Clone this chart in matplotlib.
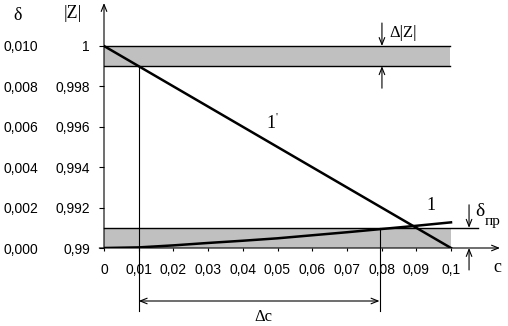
import numpy as np
import matplotlib.pyplot as plt

plt.rcParams['font.family'] = 'Liberation Sans'
plt.rcParams['font.size'] = 10

# data
c = [0, 0.01, 0.02, 0.03, 0.04, 0.05, 0.06, 0.07, 0.08, 0.09, 0.1]
z_abs = [1.0, 0.999, 0.998, 0.997, 0.996, 0.995, 0.994, 0.993, 0.992, 0.991, 0.99]   # curve 1'
delta = [0, 0.00003, 0.00013, 0.00025, 0.00036, 0.00048, 0.00063, 0.00078, 0.00094, 0.0011, 0.00127]  # curve 1

c_ticks = [0, 0.01, 0.02, 0.03, 0.04, 0.05, 0.06, 0.07, 0.08, 0.09, 0.1]
c_labels = ['0', '0,01', '0,02', '0,03', '0,04', '0,05', '0,06', '0,07', '0,08', '0,09', '0,1']
z_ticks = [0.99, 0.992, 0.994, 0.996, 0.998, 1.0]
z_labels = ['0,99', '0,992', '0,994', '0,996', '0,998', '1']
d_ticks = [0, 0.002, 0.004, 0.006, 0.008, 0.010]
d_labels = ['0,000', '0,002', '0,004', '0,006', '0,008', '0,010']

z_band = (0.999, 1.0)      # allowed |Z| tolerance
d_band = (0.0, 0.001)      # delta limit
c_range = (0.01, 0.0794)   # resulting c interval

W, H = 508, 326
fig = plt.figure(figsize=(W / 100, H / 100), dpi=100)
fig.patch.set_facecolor('white')

# axes: c=0 at x=104px, c=0.1 at 451px; |Z|=0.99 at y=248px, 1 at 46px
ax = fig.add_axes([104 / W, (H - 248) / H, 396 / W, 245 / H])
z_top = 1 + 43 / 20200
ax.set_xlim(0, 0.1 + 49 / 3470)
ax.set_ylim(0.99, z_top)
ax2 = ax.twinx()
ax2.set_ylim(0, z_top - 0.99)

# ax drawn above ax2
ax.set_zorder(ax2.get_zorder() + 1)
ax.patch.set_visible(False)

for a in (ax, ax2):
    for s in a.spines.values():
        s.set_visible(False)

serif = 'Liberation Serif'

# bands
ax.fill_between([0, 0.0996], z_band[0], z_band[1], color='#c0c0c0', lw=0)
ax.plot([0, 0.0996], [z_band[1], z_band[1]], color='black', lw=1)
ax.plot([0, 0.0996], [z_band[0], z_band[0]], color='black', lw=1)
ax2.fill_between([0, 0.1], d_band[0], d_band[1], color='#c0c0c0', lw=0)
ax2.plot([0, 0.1078], [d_band[1], d_band[1]], color='black', lw=1, clip_on=False)

# curves
ax.plot(c, z_abs, color='black', lw=1.8)
ax2.plot(c, delta, color='black', lw=1.8)

# axes with arrows
arr = dict(arrowstyle='->, head_length=0.5, head_width=0.2', lw=0.8, color='black',
           shrinkA=0, shrinkB=0)
ax.annotate('', xy=(0, 1), xytext=(0, 0), xycoords='axes fraction', arrowprops=arr)
ax.annotate('', xy=(1, 0), xytext=(-0.012, 0), xycoords='axes fraction', arrowprops=arr)

# ticks
ax.set_xticks(c_ticks)
ax.set_xticklabels(c_labels)
ax.tick_params(axis='x', direction='out', length=2.5, width=0.8, pad=8)
ax.set_yticks(z_ticks)
ax.set_yticklabels(z_labels)
ax.tick_params(axis='y', direction='out', length=3.6, width=0.8, pad=6.5)
ax2.set_yticks(d_ticks)
ax2.set_yticklabels(d_labels)
ax2.yaxis.tick_left()
ax2.tick_params(axis='y', length=0, pad=47.5)

# c interval lines and arrow
z_low = 0.99 - 63 / 20200
ax.plot([c_range[0], c_range[0]], [z_band[0], z_low], color='black', lw=0.8, clip_on=False)
ax.plot([c_range[1], c_range[1]], [0.991, z_low], color='black', lw=0.8, clip_on=False)
arr2 = dict(arrowstyle='<->, head_length=0.5, head_width=0.2', lw=0.8, color='black',
            shrinkA=0, shrinkB=0)
ax.annotate('', xy=(c_range[1], 0.99 - 53 / 20200), xytext=(c_range[0], 0.99 - 53 / 20200),
            arrowprops=arr2, annotation_clip=False)

# delta|Z| arrows
ax.annotate('', xy=(0.0801, z_band[1]), xytext=(0.0801, 1 + 23 / 20200),
            arrowprops=arr, annotation_clip=False)
ax.annotate('', xy=(0.0801, z_band[0]), xytext=(0.0801, z_band[0] - 22 / 20200),
            arrowprops=arr, annotation_clip=False)
# delta limit arrows
ax2.annotate('', xy=(0.1052, d_band[1]), xytext=(0.1052, d_band[1] + 23 / 20200),
             arrowprops=arr, annotation_clip=False)
ax2.annotate('', xy=(0.1052, 0), xytext=(0.1052, -22 / 20200),
             arrowprops=arr, annotation_clip=False)


def px_text(x, y, s, size, ha='center'):
    # text placed by pixel position in the figure
    fig.text(x / W, 1 - y / H, s, fontsize=size, family=serif, ha=ha, va='center')


px_text(17.5, 15, 'δ', 13)
px_text(73, 13, '|Z|', 13)
px_text(389, 33, 'Δ|Z|', 12, ha='left')
px_text(271, 123, '1', 13)
px_text(277, 117, "'", 8)
px_text(431, 205, '1', 13)
px_text(480, 211, 'δ', 14)
px_text(485, 221, 'пр', 11, ha='left')
px_text(497, 268, 'c', 13)
px_text(263, 317, 'Δc', 12)

fig.savefig('out.png', dpi=100)
